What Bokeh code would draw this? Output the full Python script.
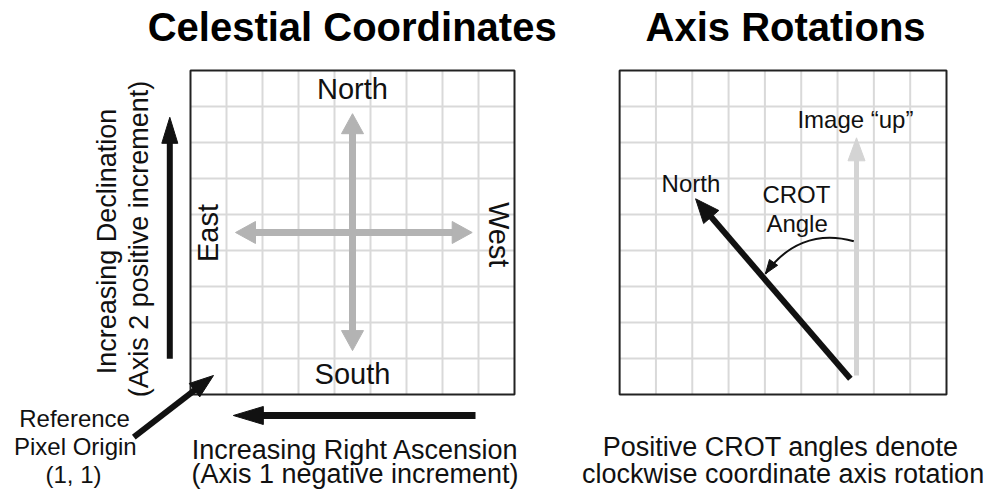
import math
from bokeh.plotting import figure
from bokeh.models import Range1d
from bokeh.core.properties import value
from bokeh.embed import file_html
from bokeh.resources import INLINE

# ---------------- diagram data (units = grid cells) ----------------
GRID_CELLS = 9
panel_titles = ["Celestial Coordinates", "Axis Rotations"]
panel_x0 = [0.0, 11.92]
panel_x1 = [9.0, 21.0]
panel_y0 = [0.0, 0.0]
panel_y1 = [9.0, 9.0]
title_x = [4.49, 16.53]
title_y = [9.786, 9.786]

# straight arrows: start -> tip
arrow_x0 = [4.5, 1.25, -0.575, 7.917, -1.575, 18.5, 18.33]
arrow_y0 = [1.22, 4.5, 0.99, -0.583, -1.186, 0.528, 0.436]
arrow_x1 = [4.5, 7.825, -0.575, 1.19, 0.639, 18.5, 14.03]
arrow_y1 = [7.8, 4.5, 7.70, -0.583, 0.528, 7.13, 5.436]
arrow_both = [True, True, False, False, False, False, False]

# CROT angle curve (cubic bezier: start, control 1, control 2, tip)
crot_x = [18.425, 17.36, 16.53, 15.97]
crot_y = [4.258, 4.556, 4.139, 3.353]

# labels (x, y = baseline centre)
big_labels = ["North", "South", "East", "West"]
big_x = [4.5, 4.5, 0.806, 8.25]
big_y = [8.186, 0.25, 4.486, 4.44]
big_angle = [0.0, 0.0, math.pi / 2, -math.pi / 2]

mid_labels = ["Increasing Declination", "(Axis 2 positive increment)",
              "Increasing Right Ascension", "(Axis 1 negative increment)",
              "Positive CROT angles denote", "clockwise coordinate axis rotation"]
mid_x = [-2.03, -1.15, 4.58, 4.57, 16.39, 16.46]
mid_y = [4.25, 4.32, -1.814, -2.48, -1.742, -2.48]
mid_angle = [math.pi / 2, math.pi / 2, 0.0, 0.0, 0.0, 0.0]

small_labels = ["Reference", "Pixel Origin", "(1, 1)", "North", "CROT", "Angle", "Image \u201cup\u201d"]
small_x = [-3.22, -3.2, -3.25, 13.90, 16.83, 16.85, 18.47]
small_y = [-0.908, -1.694, -2.48, 5.62, 5.30, 4.51, 7.38]
small_angle = [0.0] * len(small_labels)

# ---------------- styles ----------------
PX = 36.0  # pixels per unit
BASELINE_FIX = 0.38  # em: renderer draws "alphabetic" text this far too low
arrow_color = ["#b3b3b3", "#b3b3b3", "#111111", "#111111", "#111111", "#d4d4d4", "#111111"]
arrow_lw = [7, 7, 6, 7, 6, 5, 6]
arrow_hl = [20, 20, 26, 30, 24, 23, 24]
arrow_hw = [22, 22, 16, 18, 17, 17, 20]
FONT = value("Liberation Sans")
TEXT_COLOR = "#111111"

p = figure(width=990, height=491,
           x_range=Range1d(-5.2778, 22.2222), y_range=Range1d(-2.6944, 10.9444),
           output_backend="svg", toolbar_location=None,
           x_axis_location=None, y_axis_location=None, min_border=0)
p.grid.visible = False
p.outline_line_color = None
p.background_fill_color = "white"
p.border_fill_color = "white"

# grid lines + frames
gx0, gy0, gx1, gy1 = [], [], [], []
for a, b, c, d in zip(panel_x0, panel_x1, panel_y0, panel_y1):
    for k in range(1, GRID_CELLS):
        xv = a + k * (b - a) / GRID_CELLS
        yv = c + k * (d - c) / GRID_CELLS
        gx0 += [xv, a]; gx1 += [xv, b]
        gy0 += [c, yv]; gy1 += [d, yv]
p.segment(gx0, gy0, gx1, gy1, line_color="#d9d9d9", line_width=2)
p.quad(left=panel_x0, right=panel_x1, bottom=panel_y0, top=panel_y1,
       fill_color=None, line_color="#222222", line_width=2)


def head(tx, ty, ux, uy, L, W):
    bx, by = tx - ux * L, ty - uy * L
    nx, ny = -uy, ux
    return [tx, bx + nx * W / 2, bx - nx * W / 2], [ty, by + ny * W / 2, by - ny * W / 2]


for i in range(len(arrow_x0)):
    x0, y0, x1, y1 = arrow_x0[i], arrow_y0[i], arrow_x1[i], arrow_y1[i]
    n = math.hypot(x1 - x0, y1 - y0)
    ux, uy = (x1 - x0) / n, (y1 - y0) / n
    L, W = arrow_hl[i] / PX, arrow_hw[i] / PX
    ov = 1.0 / PX
    sx, sy = x0, y0
    hx, hy = [], []
    hxs, hys = head(x1, y1, ux, uy, L, W)
    hx.append(hxs); hy.append(hys)
    if arrow_both[i]:
        hxs, hys = head(x0, y0, -ux, -uy, L, W)
        hx.append(hxs); hy.append(hys)
        sx, sy = x0 + ux * (L - ov), y0 + uy * (L - ov)
    ex, ey = x1 - ux * (L - ov), y1 - uy * (L - ov)
    p.segment([sx], [sy], [ex], [ey], line_color=arrow_color[i], line_width=arrow_lw[i])
    p.patches(hx, hy, fill_color=arrow_color[i], line_color=arrow_color[i], line_width=1)

# CROT curve
p.bezier(x0=[crot_x[0]], y0=[crot_y[0]], x1=[crot_x[3]], y1=[crot_y[3]],
         cx0=[crot_x[1]], cy0=[crot_y[1]], cx1=[crot_x[2]], cy1=[crot_y[2]],
         line_color="#111111", line_width=2)
dx, dy = crot_x[3] - crot_x[2], crot_y[3] - crot_y[2]
dn = math.hypot(dx, dy)
hxs, hys = head(crot_x[3], crot_y[3], dx / dn, dy / dn, 14 / PX, 10 / PX)
p.patches([hxs], [hys], fill_color="#111111", line_color="#111111")


def fixed(xs, ys, angles, size):
    # move the anchor "up" in the text's own frame by BASELINE_FIX em
    off = BASELINE_FIX * size / PX
    fx = [x - off * math.sin(a) for x, a in zip(xs, angles)]
    fy = [y + off * math.cos(a) for y, a in zip(ys, angles)]
    return fx, fy


def draw(xs, ys, labels, angles, size, style="normal", color=TEXT_COLOR):
    fx, fy = fixed(xs, ys, angles, size)
    p.text(x=fx, y=fy, text=labels, angle=angles, text_font=FONT,
           text_font_size=f"{size}px", text_font_style=style,
           text_align="center", text_baseline="alphabetic", text_color=color)


draw(title_x, title_y, panel_titles, [0.0, 0.0], 40, "bold", "#000000")
draw(big_x, big_y, big_labels, big_angle, 29)
draw(mid_x, mid_y, mid_labels, mid_angle, 27)
draw(small_x, small_y, small_labels, small_angle, 24)

open("out.html", "w").write(file_html(p, INLINE))
